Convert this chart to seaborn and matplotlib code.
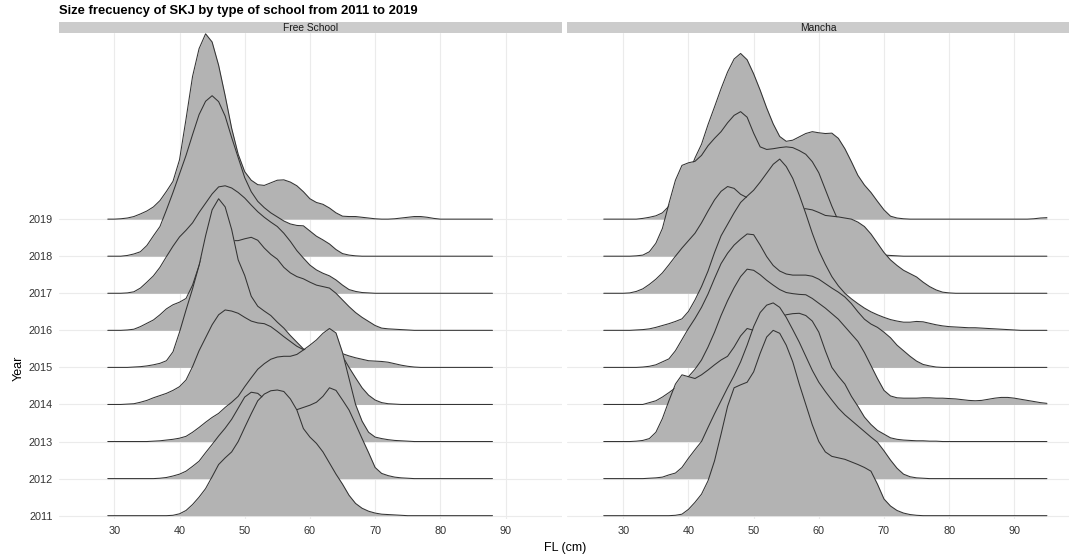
import matplotlib
matplotlib.use("Agg")
import matplotlib.pyplot as plt
from matplotlib.patches import Rectangle
import pandas as pd
import seaborn as sns

# ---------------- data (heights, in units of row spacing) -------------
YEARS = [2011, 2012, 2013, 2014, 2015, 2016, 2017, 2018, 2019]
PANELS = ["Free School", "Mancha"]
X_TICKS = [30, 40, 50, 60, 70, 80, 90]

FS_X = list(range(29, 89))   # FL (cm) positions read for Free School
M_X = list(range(27, 96))    # FL (cm) positions read for Mancha

FS_2019 = [0, 0, 0.01, 0.03, 0.07, 0.14, 0.22, 0.33, 0.5, 0.75, 1.02, 1.6, 2.7, 3.85, 4.6, 5.0, 4.78, 4.15,
           3.33, 2.45, 1.75, 1.28, 1.05, 0.93, 0.91, 0.98, 1.05, 1.06, 1.0, 0.9, 0.74, 0.55, 0.45, 0.4, 0.3,
           0.17, 0.08, 0.07, 0.07, 0.05, 0.03, 0.01, 0, 0, 0.01, 0.03, 0.05, 0.07, 0.07, 0.05, 0.02, 0,
           0, 0, 0, 0, 0, 0, 0, 0]
FS_2018 = [0, 0, 0, 0.02, 0.06, 0.12, 0.29, 0.55, 0.8, 1.25, 1.72, 2.22, 2.72, 3.28, 3.82, 4.18, 4.33, 4.17,
           3.78, 3.2, 2.66, 2.12, 1.74, 1.48, 1.31, 1.17, 1.06, 0.95, 0.87, 0.83, 0.82, 0.68, 0.54, 0.44,
           0.33, 0.18, 0.07, 0.03, 0.01, 0, 0, 0, 0, 0, 0, 0, 0, 0, 0, 0, 0, 0, 0, 0, 0, 0, 0, 0, 0, 0]
FS_2017 = [0, 0, 0, 0.01, 0.04, 0.14, 0.3, 0.47, 0.7, 0.99, 1.27, 1.52, 1.7, 1.9, 2.18, 2.43, 2.68, 2.87,
           2.9, 2.84, 2.72, 2.57, 2.38, 2.2, 2.05, 1.92, 1.8, 1.62, 1.4, 1.15, 0.95, 0.76, 0.63, 0.54, 0.47,
           0.36, 0.22, 0.1, 0.05, 0.02, 0.01, 0, 0, 0, 0, 0, 0, 0, 0, 0, 0, 0, 0, 0, 0, 0, 0, 0, 0, 0]
FS_2016 = [0, 0, 0, 0.01, 0.03, 0.1, 0.19, 0.28, 0.42, 0.58, 0.69, 0.76, 0.86, 1.22, 1.75, 2.2, 2.35, 2.45,
           2.45, 2.42, 2.42, 2.47, 2.51, 2.43, 2.22, 2.05, 1.92, 1.7, 1.55, 1.45, 1.39, 1.3, 1.22, 1.18,
           1.14, 1.0, 0.82, 0.64, 0.48, 0.35, 0.24, 0.13, 0.06, 0.04, 0.03, 0.02, 0.01, 0, 0, 0, 0, 0, 0,
           0, 0, 0, 0, 0, 0, 0]
FS_2015 = [0, 0, 0, 0, 0.01, 0.02, 0.04, 0.07, 0.11, 0.18, 0.42, 0.95, 1.55, 2.12, 2.75, 3.55, 4.25, 4.55,
           4.33, 3.72, 2.9, 2.48, 1.92, 1.65, 1.52, 1.4, 1.22, 1.06, 0.86, 0.68, 0.5, 0.4, 0.36, 0.34, 0.34,
           0.36, 0.37, 0.31, 0.26, 0.22, 0.18, 0.17, 0.16, 0.14, 0.1, 0.06, 0.03, 0.01, 0, 0, 0, 0, 0, 0,
           0, 0, 0, 0, 0, 0]
FS_2014 = [0, 0, 0, 0.01, 0.02, 0.06, 0.11, 0.18, 0.24, 0.3, 0.38, 0.48, 0.66, 1.02, 1.45, 1.8, 2.15, 2.42,
           2.55, 2.52, 2.46, 2.35, 2.25, 2.2, 2.18, 2.1, 1.97, 1.83, 1.7, 1.57, 1.48, 1.42, 1.4, 1.38, 1.36,
           1.33, 1.3, 1.0, 0.72, 0.45, 0.25, 0.12, 0.05, 0.02, 0.01, 0, 0, 0, 0, 0, 0, 0, 0, 0, 0, 0, 0, 0,
           0, 0]
FS_2013 = [0, 0, 0, 0, 0, 0, 0, 0.01, 0.02, 0.04, 0.06, 0.09, 0.14, 0.25, 0.38, 0.52, 0.65, 0.76, 0.92,
           1.06, 1.22, 1.48, 1.72, 1.95, 2.1, 2.22, 2.28, 2.3, 2.3, 2.35, 2.47, 2.6, 2.74, 2.92, 3.05, 2.93,
           2.4, 1.7, 1.0, 0.55, 0.25, 0.12, 0.08, 0.05, 0.03, 0.02, 0.01, 0, 0, 0, 0, 0, 0, 0, 0, 0, 0, 0,
           0, 0]
FS_2012 = [0, 0, 0, 0, 0, 0, 0, 0, 0.01, 0.03, 0.07, 0.12, 0.2, 0.33, 0.47, 0.7, 0.92, 1.15, 1.36, 1.6,
           1.9, 2.2, 2.33, 2.3, 2.15, 2.02, 1.95, 1.9, 1.86, 1.86, 1.92, 1.98, 2.06, 2.22, 2.45, 2.38, 2.12,
           1.85, 1.47, 1.08, 0.7, 0.3, 0.14, 0.08, 0.04, 0.02, 0.01, 0, 0, 0, 0, 0, 0, 0, 0, 0, 0, 0, 0, 0]
FS_2011 = [0, 0, 0, 0, 0, 0, 0, 0, 0, 0, 0.01, 0.05, 0.14, 0.3, 0.5, 0.73, 1.05, 1.38, 1.56, 1.72, 2.0,
           2.38, 2.75, 3.1, 3.28, 3.37, 3.39, 3.35, 3.15, 2.85, 2.35, 2.12, 1.95, 1.72, 1.42, 1.12, 0.85,
           0.55, 0.33, 0.2, 0.12, 0.07, 0.04, 0.03, 0.02, 0.01, 0, 0, 0, 0, 0, 0, 0, 0, 0, 0, 0, 0, 0, 0]

M_2019 = [0, 0, 0, 0, 0, 0, 0.02, 0.05, 0.09, 0.17, 0.35, 0.6, 0.9, 1.2, 1.65, 2.02, 2.55, 3.03, 3.52,
          3.97, 4.32, 4.47, 4.3, 3.92, 3.48, 3.0, 2.57, 2.23, 2.1, 2.13, 2.22, 2.31, 2.36, 2.33, 2.31, 2.32,
          2.18, 1.9, 1.55, 1.18, 0.92, 0.72, 0.48, 0.25, 0.08, 0.03, 0.01, 0, 0, 0, 0, 0, 0, 0, 0, 0, 0,
          0, 0, 0, 0, 0, 0, 0, 0, 0, 0.01, 0.03, 0.04]
M_2018 = [0, 0, 0, 0, 0, 0.01, 0.03, 0.12, 0.35, 0.75, 1.42, 2.05, 2.45, 2.52, 2.56, 2.72, 2.98, 3.18,
          3.36, 3.6, 3.8, 3.9, 3.75, 3.32, 2.95, 2.88, 2.9, 2.93, 2.95, 2.93, 2.85, 2.75, 2.55, 2.25, 1.8,
          1.35, 0.95, 0.62, 0.4, 0.25, 0.15, 0.09, 0.05, 0.03, 0.02, 0.01, 0, 0, 0, 0, 0, 0, 0, 0, 0, 0,
          0, 0, 0, 0, 0, 0, 0, 0, 0, 0, 0, 0, 0]
M_2017 = [0, 0, 0, 0, 0.01, 0.05, 0.12, 0.24, 0.38, 0.55, 0.77, 1.0, 1.22, 1.42, 1.62, 1.9, 2.22, 2.52,
          2.75, 2.88, 2.83, 2.67, 2.58, 2.5, 2.45, 2.42, 2.4, 2.38, 2.35, 2.32, 2.3, 2.28, 2.25, 2.18, 2.1,
          2.08, 2.06, 2.03, 2.0, 1.92, 1.8, 1.6, 1.35, 1.1, 0.9, 0.75, 0.62, 0.53, 0.44, 0.3, 0.18, 0.09,
          0.03, 0.01, 0, 0, 0, 0, 0, 0, 0, 0, 0, 0, 0, 0, 0, 0, 0]
M_2016 = [0, 0, 0, 0, 0, 0.01, 0.02, 0.04, 0.08, 0.13, 0.18, 0.24, 0.31, 0.51, 0.82, 1.18, 1.6, 2.1, 2.55,
          2.86, 3.17, 3.45, 3.62, 3.78, 4.0, 4.24, 4.48, 4.62, 4.42, 4.1, 3.65, 3.15, 2.62, 2.15, 1.78,
          1.45, 1.2, 1.0, 0.85, 0.72, 0.6, 0.5, 0.42, 0.35, 0.29, 0.25, 0.22, 0.22, 0.24, 0.23, 0.19, 0.15,
          0.12, 0.1, 0.09, 0.08, 0.07, 0.07, 0.06, 0.05, 0.04, 0.03, 0.02, 0.01, 0, 0, 0, 0, 0]
M_2015 = [0, 0, 0, 0, 0, 0, 0.01, 0.03, 0.07, 0.15, 0.23, 0.45, 0.75, 1.05, 1.32, 1.62, 1.98, 2.4, 2.8,
          3.08, 3.3, 3.46, 3.6, 3.58, 3.3, 2.99, 2.75, 2.6, 2.52, 2.49, 2.49, 2.49, 2.46, 2.38, 2.26, 2.14,
          2.03, 1.9, 1.72, 1.5, 1.3, 1.17, 1.08, 0.95, 0.8, 0.6, 0.45, 0.3, 0.17, 0.08, 0.04, 0.01, 0, 0,
          0, 0, 0, 0, 0, 0, 0, 0, 0, 0, 0, 0, 0, 0, 0]
M_2014 = [0, 0, 0, 0, 0, 0, 0, 0.05, 0.1, 0.2, 0.32, 0.45, 0.6, 0.75, 0.95, 1.2, 1.55, 1.95, 2.4, 2.8,
          3.15, 3.45, 3.65, 3.62, 3.5, 3.35, 3.22, 3.1, 3.02, 2.99, 2.97, 2.96, 2.86, 2.73, 2.6, 2.45, 2.3,
          2.1, 1.9, 1.7, 1.4, 1.05, 0.7, 0.38, 0.23, 0.18, 0.17, 0.17, 0.17, 0.18, 0.18, 0.17, 0.17, 0.16,
          0.15, 0.13, 0.11, 0.1, 0.11, 0.14, 0.17, 0.19, 0.19, 0.17, 0.14, 0.11, 0.08, 0.05, 0.03]
M_2013 = [0, 0, 0, 0, 0, 0.01, 0.03, 0.08, 0.25, 0.62, 1.1, 1.55, 1.8, 1.75, 1.7, 1.8, 1.93, 2.07, 2.2,
          2.3, 2.55, 2.85, 3.05, 3.0, 3.0, 3.1, 3.25, 3.35, 3.42, 3.45, 3.46, 3.4, 3.25, 2.95, 2.45, 2.0,
          1.76, 1.55, 1.22, 0.95, 0.66, 0.46, 0.3, 0.2, 0.1, 0.06, 0.04, 0.03, 0.02, 0.02, 0.01, 0.01, 0,
          0, 0, 0, 0, 0, 0, 0, 0, 0, 0, 0, 0, 0, 0, 0, 0]
M_2012 = [0, 0, 0, 0, 0, 0, 0, 0.01, 0.02, 0.04, 0.1, 0.15, 0.3, 0.55, 0.78, 1.0, 1.38, 1.75, 2.1, 2.45,
          2.78, 3.15, 3.6, 4.1, 4.48, 4.68, 4.74, 4.62, 4.35, 4.02, 3.68, 3.3, 2.92, 2.6, 2.35, 2.12, 1.9,
          1.72, 1.57, 1.42, 1.27, 1.12, 0.98, 0.75, 0.5, 0.28, 0.12, 0.05, 0.02, 0.01, 0, 0, 0, 0, 0, 0,
          0, 0, 0, 0, 0, 0, 0, 0, 0, 0, 0, 0, 0]
M_2011 = [0, 0, 0, 0, 0, 0, 0, 0, 0, 0, 0, 0.01, 0.04, 0.17, 0.36, 0.58, 0.94, 1.48, 2.2, 2.95, 3.45,
          3.53, 3.6, 3.88, 4.38, 4.82, 5.0, 4.92, 4.6, 4.15, 3.55, 3.0, 2.45, 2.0, 1.72, 1.6, 1.56, 1.52,
          1.45, 1.38, 1.3, 1.2, 0.85, 0.45, 0.26, 0.14, 0.07, 0.03, 0.01, 0, 0, 0, 0, 0, 0, 0, 0, 0, 0, 0,
          0, 0, 0, 0, 0, 0, 0, 0, 0]

FS_SERIES = [FS_2011, FS_2012, FS_2013, FS_2014, FS_2015, FS_2016, FS_2017, FS_2018, FS_2019]
M_SERIES = [M_2011, M_2012, M_2013, M_2014, M_2015, M_2016, M_2017, M_2018, M_2019]

rows = []
for panel, xs, series in [(PANELS[0], FS_X, FS_SERIES), (PANELS[1], M_X, M_SERIES)]:
    for yr, hs in zip(YEARS, series):
        assert len(hs) == len(xs), (panel, yr, len(hs), len(xs))
        for x, h in zip(xs, hs):
            rows.append((panel, yr, x, h))
df = pd.DataFrame(rows, columns=["panel", "year", "FL", "height"])

# ---------------- style -------------
sns.set_theme(style="white")
plt.rcParams["font.family"] = ["Liberation Sans", "DejaVu Sans"]

W, H = 1069, 559
fig = plt.figure(figsize=(W / 100, H / 100), dpi=100)
fig.patch.set_facecolor("white")

FILL = "#b3b3b3"
EDGE = "#333333"
GRID = "#ebebeb"
TXT = "#333333"

panel_top, panel_bot = 32.7, 519.0
ax_specs = [(58.6, 503.0, (21.457, 98.60)), (566.8, 502.2, (21.33, 98.39))]

axes = []
for i, (panel, (px0, pw, xl)) in enumerate(zip(PANELS, ax_specs)):
    ax = fig.add_axes([px0 / W, 1 - panel_bot / H, pw / W, (panel_bot - panel_top) / H])
    ax.set_facecolor("white")
    sub = df[df.panel == panel]
    for yi, yr in enumerate(YEARS):
        d = sub[sub.year == yr].sort_values("FL")
        top = yi + d["height"].to_numpy()
        z = 10 + (len(YEARS) - yi) * 2
        ax.fill_between(d["FL"].to_numpy(), yi, top, color=FILL, lw=0, zorder=z)
        sns.lineplot(x=d["FL"].to_numpy(), y=top, ax=ax, color=EDGE, linewidth=0.75,
                     zorder=z + 1, estimator=None, sort=False)
    ax.set_xlim(*xl)
    ax.set_ylim(-0.09, 13.03)
    ax.set_xticks(X_TICKS)
    ax.set_xticklabels([str(t) for t in X_TICKS], fontsize=7.8, color=TXT)
    ax.set_yticks(range(len(YEARS)))
    if i == 0:
        ax.set_yticklabels([str(y) for y in YEARS], fontsize=7.8, color=TXT)
    else:
        ax.set_yticklabels([])
    ax.tick_params(axis="both", length=0)
    ax.tick_params(axis="x", pad=5.0)
    ax.tick_params(axis="y", pad=4.0)
    ax.grid(True, color=GRID, lw=0.8)
    ax.set_axisbelow(True)
    for s in ax.spines.values():
        s.set_visible(False)
    ax.set_xlabel("")
    ax.set_ylabel("")
    # facet strip
    fig.add_artist(Rectangle((px0 / W, 1 - panel_top / H), pw / W, 10.4 / H,
                             transform=fig.transFigure, facecolor="#cccccc", edgecolor="none"))
    fig.text((px0 + pw / 2) / W, 1 - 28.3 / H, panel, ha="center", va="center",
             fontsize=7.4, color="#1a1a1a")
    axes.append(ax)

fig.text(59 / W, 1 - 11 / H, "Size frecuency of SKJ by type of school from 2011 to 2019",
         ha="left", va="center", fontsize=9.4, fontweight="bold", color="black")
fig.text(565 / W, 1 - 548 / H, "FL (cm)", ha="center", va="center", fontsize=9, color="black")
fig.text(18.6 / W, 1 - 368 / H, "Year", ha="center", va="center", rotation=90, fontsize=9,
         color="black")

fig.savefig("out.png", dpi=100, facecolor="white")
